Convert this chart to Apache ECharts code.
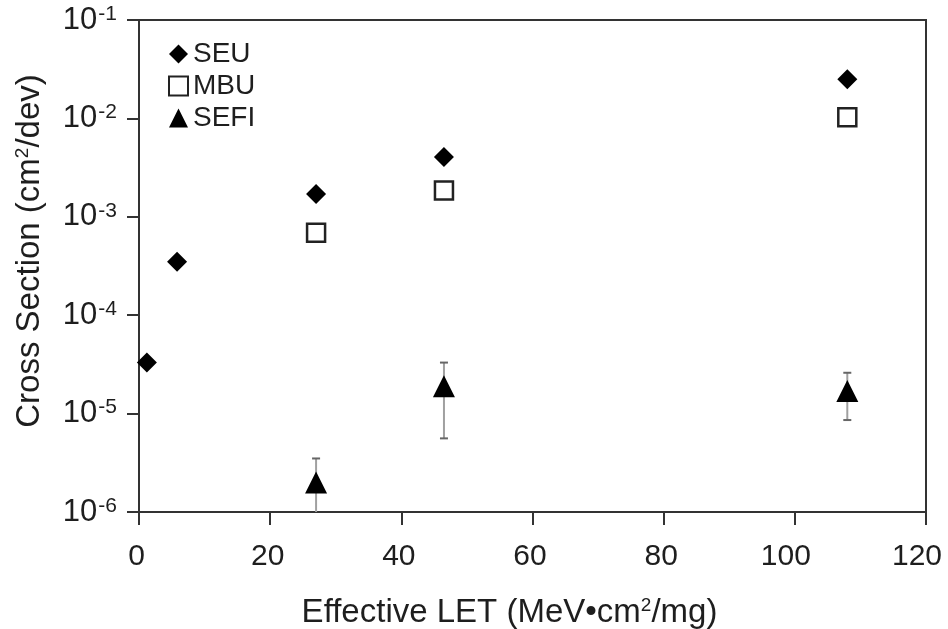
<!DOCTYPE html>
<html>
<head>
<meta charset="utf-8">
<script src="https://cdn.jsdelivr.net/npm/echarts@6/dist/echarts.min.js"></script>
<style>
  html, body { margin: 0; padding: 0; background: #fff; }
  #chart { width: 948px; height: 629px; }
</style>
</head>
<body>
<div id="chart"></div>
<script>
// Effective LET (MeV·cm²/mg) for each measured point
const seuLet  = [1.2, 5.8, 27, 46.5, 108];
const seuVals = [3.3e-5, 3.5e-4, 1.7e-3, 4.05e-3, 2.5e-2];

const mbuLet  = [27, 46.5, 108];
const mbuVals = [6.9e-4, 1.85e-3, 1.03e-2];

const sefiLet  = [27, 46.5, 108];
const sefiVals = [2.0e-6, 1.9e-5, 1.7e-5];
const sefiLow  = [7e-7, 5.6e-6, 8.6e-6];
const sefiHigh = [3.5e-6, 3.3e-5, 2.6e-5];

const xTicks = [0, 20, 40, 60, 80, 100, 120];
const yMin = 1e-6, yMax = 1e-1;

const FONT = '"Liberation Sans", Arial, sans-serif';
const INK = '#1e1e1e';

const zip = (xs, ys) => xs.map((x, i) => [x, ys[i]]);
const errData = sefiLet.map((x, i) => [x, sefiLow[i], sefiHigh[i]]);

const supStyle = { fontSize: 19, verticalAlign: 'top', padding: [0, 0, 11, 0], color: INK, fontFamily: FONT };

const chart = echarts.init(document.getElementById('chart'), null, { renderer: 'canvas' });

chart.setOption({
  animation: false,
  backgroundColor: '#fff',
  textStyle: { fontFamily: FONT, color: INK },
  grid: {
    left: 139, right: 22, top: 20, bottom: 117,
    outerBoundsMode: 'none',
    show: true, borderColor: '#333', borderWidth: 2, backgroundColor: 'transparent'
  },
  legend: {
    orient: 'vertical',
    left: 163, top: 35,
    itemWidth: 19, itemHeight: 19, itemGap: 4,
    data: ['SEU', 'MBU', 'SEFI'],
    textStyle: { fontFamily: FONT, fontSize: 28, lineHeight: 28, color: INK },
    selectedMode: false
  },
  xAxis: {
    type: 'value',
    min: xTicks[0], max: xTicks[xTicks.length - 1], interval: 20,
    name: 'Effective LET (MeV•cm{sup|2}/mg)',
    nameLocation: 'middle', nameGap: 84,
    nameTextStyle: {
      fontFamily: FONT, fontSize: 33, color: INK, padding: [0, 46, 0, 0],
      rich: { sup: supStyle }
    },
    axisLine: { onZero: false, lineStyle: { color: '#333', width: 2 } },
    axisTick: { show: true, inside: false, length: 13, lineStyle: { color: '#333', width: 2 } },
    axisLabel: {
      margin: 30,
      formatter: v => (v >= 100 ? '{w|' : '{n|') + v + '}',
      rich: {
        n: { fontFamily: FONT, fontSize: 30, color: INK, padding: [0, 5, 0, 0] },
        w: { fontFamily: FONT, fontSize: 30, color: INK, padding: [0, 18, 0, 0] }
      }
    },
    splitLine: { show: false }
  },
  yAxis: {
    type: 'log', logBase: 10, min: yMin, max: yMax,
    name: 'Cross Section (cm{sup|2}/dev)',
    nameLocation: 'middle', nameGap: 93, nameRotate: 90,
    nameTextStyle: {
      fontFamily: FONT, fontSize: 33, color: INK, padding: [0, 0, 0, 30],
      rich: { sup: supStyle }
    },
    axisLine: { lineStyle: { color: '#333', width: 2 } },
    axisTick: { show: true, inside: false, length: 12, lineStyle: { color: '#333', width: 2 } },
    axisLabel: {
      margin: 22,
      formatter: v => '{b|10}{e|' + Math.round(Math.log10(v)) + '}',
      rich: {
        b: { fontFamily: FONT, fontSize: 31, color: INK },
        e: { fontFamily: FONT, fontSize: 21, color: INK, verticalAlign: 'top', padding: [0, 0, 12, 1] }
      }
    },
    splitLine: { show: false },
    minorTick: { show: false }
  },
  series: [
    {
      name: 'SEFI-err',
      type: 'custom',
      clip: true,
      z: 1,
      data: errData,
      renderItem: (params, api) => {
        const x = api.value(0);
        const lo = api.coord([x, api.value(1)]);
        const hi = api.coord([x, api.value(2)]);
        const cap = 4;
        const style = { stroke: '#a0a0a0', lineWidth: 2 };
        const capStyle = { stroke: '#666', lineWidth: 2 };
        return {
          type: 'group',
          children: [
            { type: 'line', shape: { x1: lo[0], y1: lo[1], x2: hi[0], y2: hi[1] }, style },
            { type: 'line', shape: { x1: hi[0] - cap, y1: hi[1], x2: hi[0] + cap, y2: hi[1] }, style: capStyle },
            { type: 'line', shape: { x1: lo[0] - cap, y1: lo[1], x2: lo[0] + cap, y2: lo[1] }, style: capStyle }
          ]
        };
      }
    },
    {
      name: 'SEU', type: 'scatter', z: 3,
      symbol: 'diamond', symbolSize: 20,
      itemStyle: { color: '#000', opacity: 1 },
      data: zip(seuLet, seuVals)
    },
    {
      name: 'MBU', type: 'scatter', z: 3,
      symbol: 'rect', symbolSize: 18,
      itemStyle: { color: '#fff', borderColor: '#222', borderWidth: 2.5, opacity: 1 },
      data: zip(mbuLet, mbuVals)
    },
    {
      name: 'SEFI', type: 'scatter', z: 3,
      symbol: 'triangle', symbolSize: [22, 22],
      itemStyle: { color: '#000', opacity: 1 },
      data: zip(sefiLet, sefiVals)
    }
  ]
});
</script>
</body>
</html>
